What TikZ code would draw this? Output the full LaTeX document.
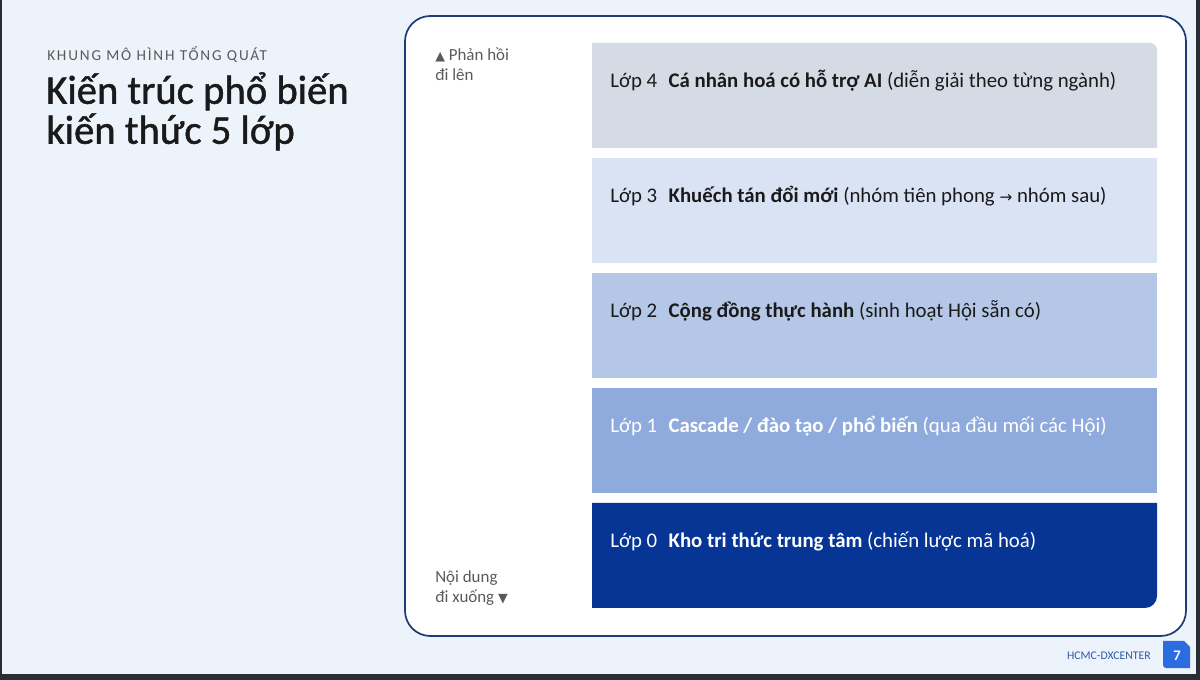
\documentclass[tikz,border=0pt]{standalone}
\usepackage{fontspec}
\setmainfont{Carlito}
\newfontfamily\symfont{DejaVu Sans}
\begin{document}
\begin{tikzpicture}[x=0.75pt,y=-0.75pt,
  lbl/.style={anchor=west, inner sep=0pt, font=\fontsize{15.6}{18}\selectfont},
  side/.style={anchor=north west, inner sep=0pt, align=left, text=sidegray, font=\fontsize{12.7}{15}\selectfont},
]
\definecolor{bg}{HTML}{EDF3FB}
\definecolor{frame}{HTML}{1F3C78}
\definecolor{cL4}{HTML}{D5DBE5}
\definecolor{cL3}{HTML}{D9E3F4}
\definecolor{cL2}{HTML}{B4C7E7}
\definecolor{cL1}{HTML}{8FAADC}
\definecolor{cL0}{HTML}{063596}
\definecolor{dark}{HTML}{1A1A1A}
\definecolor{sidegray}{HTML}{5A5A5A}
\definecolor{footblue}{HTML}{2F5BA8}
\definecolor{pageblue}{HTML}{2B6DE0}
\definecolor{edge}{HTML}{2A2D33}
\useasboundingbox (0,0) rectangle (1200,680);
\fill[bg] (0,0) rectangle (1200,680);
\fill[edge] (0,674) rectangle (1200,680);
\fill[edge] (0,0) rectangle (2,680);
\fill[edge] (1196,0) rectangle (1200,680);
% heading
\node[anchor=west, inner sep=0pt, text=sidegray, font=\fontsize{11.4}{12}\selectfont\addfontfeature{LetterSpace=12}] (kicker) at (47,55) {KHUNG MÔ HÌNH TỔNG QUÁT};
\node[anchor=north west, inner sep=0pt, align=left, text=dark, font=\fontsize{30.5}{30}\selectfont\addfontfeature{FakeBold=1.2}] (title) at (46,72) {Kiến trúc phổ biến\\kiến thức 5 lớp};
% panel
\draw[frame, line width=1.3pt, fill=white, rounded corners=19pt] (405,16) rectangle (1186,636);
% layers
\fill[cL4] (592,148) -- (592,43) -- (1150,43) arc[start angle=90,end angle=0,radius=5.25pt] -- (1157,148) -- cycle;
\fill[cL3] (592,158) rectangle (1157,263);
\fill[cL2] (592,273) rectangle (1157,378);
\fill[cL1] (592,388) rectangle (1157,493);
\fill[cL0] (592,503) -- (1157,503) -- (1157,596) arc[start angle=0,end angle=-90,radius=9pt] -- (592,608) -- cycle;
\node[lbl, text=dark] (t4) at (610,81) {Lớp 4\hspace{0.55em}\textbf{Cá nhân hoá có hỗ trợ AI} (diễn giải theo từng ngành)};
\node[lbl, text=dark] (t3) at (610,196) {Lớp 3\hspace{0.55em}\textbf{Khuếch tán đổi mới} (nhóm tiên phong {\symfont\fontsize{11.5}{12}\selectfont →} nhóm sau)};
\node[lbl, text=dark] (t2) at (610,311) {Lớp 2\hspace{0.55em}\textbf{Cộng đồng thực hành} (sinh hoạt Hội sẵn có)};
\node[lbl, text=white] (t1) at (610,426) {Lớp 1\hspace{0.55em}\textbf{Cascade / đào tạo / phổ biến} (qua đầu mối các Hội)};
\node[lbl, text=white] (t0) at (610,541) {Lớp 0\hspace{0.55em}\textbf{Kho tri thức trung tâm} (chiến lược mã hoá)};
% side labels
\node[side] (up) at (435,48) {{\symfont\fontsize{9.5}{10}\selectfont ▲} Phản hồi\\đi lên};
\node[side] (down) at (435,570) {Nội dung\\đi xuống {\symfont\fontsize{9.5}{10}\selectfont ▼}};
% footer
\node[anchor=east, inner sep=0pt, text=footblue, font=\fontsize{8.8}{9}\selectfont] (foot) at (1151,656) {HCMC-DXCENTER};
\fill[pageblue] (1163,641) -- (1184,641) -- (1190,647) -- (1190,668) -- (1166,668) arc[start angle=-90,end angle=-180,radius=2.25pt] -- cycle;
\node[text=white, inner sep=0pt, font=\fontsize{11}{12}\selectfont\bfseries] (page) at (1177,656) {7};
\end{tikzpicture}
\end{document}
